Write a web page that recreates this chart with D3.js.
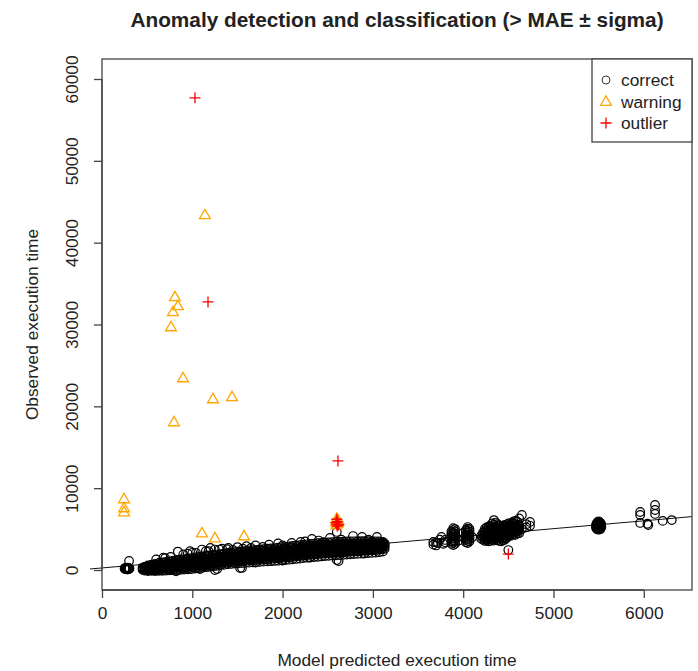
<!DOCTYPE html>
<html>
<head>
<meta charset="utf-8">
<script src="https://cdn.jsdelivr.net/npm/d3@7"></script>
<style>
  body { margin: 0; background: #fff; }
  text { font-family: "Liberation Sans", Arial, Helvetica, sans-serif; fill: #222; }
</style>
</head>
<body>
<div id="chart"></div>
<script>
// ---- data (predicted, observed) ----
const xTicks = [0, 1000, 2000, 3000, 4000, 5000, 6000];
const yTicks = [0, 10000, 20000, 30000, 40000, 50000, 60000];

// dense band of "correct" runs: [predicted, observed values...]
const bandRows = [
  [450, 20, 180, 300], [490, -30, 120, 280, 420], [530, 0, 200, 380, 520],
  [570, -40, 150, 350, 600], [610, 10, 230, 460, 680], [650, 40, 280, 500, 740],
  [690, 20, 300, 560, 820], [730, 70, 340, 620, 900], [770, 90, 380, 680, 1000],
  [810, 120, 420, 720, 1080], [850, 150, 460, 780, 1120], [890, 180, 500, 830, 1180],
  [930, 230, 540, 880, 1240], [970, 260, 590, 920, 1300], [1010, 310, 640, 980, 1350],
  [1050, 360, 700, 1030, 1400], [1090, 420, 750, 1080, 1460], [1130, 480, 810, 1140, 1520],
  [1170, 540, 870, 1200, 1580], [1210, 600, 930, 1260, 1640], [1250, 660, 990, 1320, 1700],
  [1290, 730, 1050, 1380, 1760], [1330, 800, 1110, 1440, 1830], [1370, 870, 1180, 1500, 1900],
  [1410, 930, 1240, 1560, 1960], [1450, 980, 1300, 1620, 2010], [1490, 1020, 1340, 1660, 2050],
  [1530, 1060, 1380, 1700, 2100], [1570, 1100, 1420, 1740, 2140], [1610, 1140, 1460, 1780, 2180],
  [1650, 1180, 1500, 1820, 2220], [1690, 1210, 1540, 1860, 2260], [1730, 1240, 1570, 1900, 2300],
  [1770, 1270, 1600, 1940, 2340], [1810, 1300, 1640, 1980, 2380], [1850, 1340, 1680, 2020, 2420],
  [1890, 1380, 1720, 2060, 2460], [1930, 1420, 1760, 2100, 2500], [1970, 1460, 1800, 2140, 2540],
  [2010, 1500, 1840, 2180, 2590], [2050, 1540, 1880, 2230, 2640], [2090, 1590, 1930, 2280, 2690],
  [2130, 1640, 1980, 2330, 2740], [2170, 1690, 2030, 2380, 2790], [2210, 1740, 2080, 2430, 2840],
  [2250, 1790, 2130, 2480, 2890], [2290, 1840, 2180, 2530, 2940], [2330, 1880, 2220, 2580, 2980],
  [2370, 1920, 2260, 2620, 3020], [2410, 1960, 2300, 2660, 3060], [2450, 2000, 2340, 2700, 3090],
  [2490, 2040, 2380, 2740, 3120], [2530, 2070, 2410, 2770, 3140], [2570, 2100, 2440, 2800, 3160],
  [2610, 2130, 2470, 2830, 3180], [2650, 2160, 2500, 2860, 3200], [2690, 2190, 2530, 2890, 3220],
  [2730, 2220, 2560, 2910, 3240], [2770, 2250, 2590, 2930, 3250], [2810, 2280, 2620, 2950, 3260],
  [2850, 2310, 2650, 2970, 3270], [2890, 2340, 2680, 2990, 3280], [2930, 2370, 2710, 3010, 3290],
  [2970, 2400, 2740, 3030, 3300], [3010, 2430, 2770, 3050, 3300], [3050, 2470, 2800, 3070, 3290],
  [3090, 2520, 2830, 3090, 3270], [3130, 2580, 2860, 3100, 3240]
];

// second, interleaved set of band runs (between the columns above, a bit wider)
const bandRows2 = [
  [470, -80, 100, 240, 380], [510, -120, 60, 220, 400, 560], [550, -100, 90, 270, 460, 640],
  [590, -120, 80, 300, 520, 760], [630, -100, 120, 360, 600, 860], [670, -90, 150, 400, 660, 920],
  [710, -60, 180, 450, 720, 990], [750, -40, 220, 500, 780, 1060], [790, -20, 250, 540, 840, 1140],
  [830, 0, 290, 590, 900, 1210], [870, 20, 320, 640, 960, 1280], [910, 50, 360, 680, 1010, 1340],
  [950, 80, 400, 730, 1070, 1400], [990, 120, 450, 790, 1130, 1460], [1030, 170, 500, 840, 1190, 1530],
  [1070, 220, 560, 900, 1240, 1590], [1110, 280, 620, 960, 1300, 1650], [1150, 340, 680, 1020, 1360, 1710],
  [1190, 400, 740, 1080, 1420, 1770], [1230, 460, 800, 1140, 1480, 1830], [1270, 520, 860, 1200, 1540, 1890],
  [1310, 580, 920, 1260, 1600, 1950], [1350, 640, 980, 1320, 1660, 2010], [1390, 700, 1040, 1380, 1720, 2080],
  [1430, 740, 1090, 1430, 1780, 2140], [1470, 780, 1130, 1480, 1830, 2190], [1510, 810, 1170, 1520, 1870, 2240],
  [1550, 840, 1200, 1560, 1910, 2280], [1590, 870, 1240, 1600, 1950, 2330], [1630, 900, 1270, 1640, 2000, 2380],
  [1670, 930, 1300, 1680, 2040, 2420], [1710, 960, 1340, 1720, 2080, 2460], [1750, 990, 1370, 1760, 2120, 2510],
  [1790, 1020, 1410, 1800, 2170, 2550], [1830, 1050, 1440, 1840, 2210, 2600], [1870, 1080, 1480, 1880, 2250, 2640],
  [1910, 1110, 1510, 1920, 2290, 2680], [1950, 1140, 1550, 1960, 2340, 2730], [1990, 1180, 1590, 2000, 2380, 2780],
  [2030, 1220, 1630, 2050, 2430, 2830], [2070, 1260, 1670, 2100, 2480, 2880], [2110, 1300, 1720, 2150, 2530, 2940],
  [2150, 1350, 1770, 2200, 2580, 2990], [2190, 1400, 1820, 2250, 2630, 3040], [2230, 1450, 1870, 2300, 2680, 3090],
  [2270, 1500, 1920, 2350, 2730, 3140], [2310, 1540, 1960, 2400, 2780, 3190], [2350, 1580, 2000, 2440, 2820, 3230],
  [2390, 1620, 2040, 2480, 2860, 3270], [2430, 1660, 2080, 2520, 2900, 3310], [2470, 1700, 2120, 2560, 2940, 3350],
  [2510, 1730, 2150, 2590, 2970, 3380], [2550, 1760, 2180, 2620, 3000, 3400], [2590, 1790, 2210, 2650, 3030, 3420],
  [2630, 1820, 2240, 2680, 3060, 3440], [2670, 1850, 2270, 2710, 3090, 3460], [2710, 1880, 2300, 2740, 3110, 3480],
  [2750, 1910, 2330, 2760, 3130, 3500], [2790, 1940, 2360, 2780, 3150, 3510], [2830, 1970, 2390, 2800, 3160, 3520],
  [2870, 2000, 2420, 2820, 3170, 3530], [2910, 2030, 2450, 2840, 3180, 3540], [2950, 2060, 2480, 2860, 3190, 3540],
  [2990, 2090, 2510, 2880, 3200, 3530], [3030, 2130, 2540, 2900, 3210, 3510], [3070, 2180, 2580, 2920, 3220, 3480],
  [3110, 2250, 2620, 2940, 3220, 3440]
];

// clusters further right, same layout
const clusterRows = [
  [3670, 3100, 3420], [3700, 3000, 3350], [3720, 3300], [3740, 3700], [3760, 4030],
  [3780, 3200], [3800, 3400, 3670],
  [3870, 3200, 3500, 3800, 4100, 4400, 4700],
  [3890, 3050, 3350, 3650, 3950, 4250, 4550, 4850, 5100],
  [3910, 3200, 3500, 3800, 4100, 4400, 4700, 5000],
  [3950, 3600], [4000, 4520], [4010, 3900],
  [4030, 3400, 3700, 4000, 4300, 4600, 4900],
  [4050, 3300, 3550, 3800, 4050, 4300, 4550, 4800, 5050, 5250],
  [4070, 3500, 3800, 4100, 4400, 4700, 5000], [4100, 4000],
  [4200, 3800, 4200], [4220, 3700, 4000, 4300, 4600],
  [4240, 3550, 3850, 4150, 4450, 4750, 5050],
  [4260, 3600, 3900, 4200, 4500, 4800, 5200],
  [4280, 3500, 3750, 4050, 4350, 4650, 4950, 5300],
  [4300, 3550, 3850, 4150, 4450, 4750, 5050, 5400],
  [4320, 3700, 4000, 4300, 4600, 4900, 5250, 5700],
  [4340, 3600, 3900, 4200, 4500, 4800, 5100, 5500, 6100],
  [4360, 3750, 4050, 4350, 4650, 4950, 5300, 5800],
  [4380, 3650, 3950, 4250, 4550, 4850, 5150, 5600],
  [4400, 3550, 3850, 4200, 4500, 4800, 5100, 5450],
  [4420, 3500, 3800, 4100, 4400, 4700, 5000, 5300],
  [4440, 3600, 3900, 4250, 4550, 4850, 5150, 5400],
  [4460, 3700, 4000, 4300, 4600, 4900, 5200, 5500],
  [4480, 3900, 4250, 4550, 4850, 5150, 5450],
  [4500, 2440, 4100, 4400, 4700, 5000, 5300, 5700],
  [4520, 4300, 4650, 4950, 5250, 5550],
  [4540, 4200, 4500, 4800, 5100, 5400, 5800],
  [4560, 4400, 4700, 5000, 5300, 5650, 5950],
  [4580, 4300, 4600, 4900, 5200, 5600, 6000],
  [4600, 4500, 4850, 5200, 5500, 5900],
  [4620, 4500, 4800, 5100, 5500, 6300], [4650, 5000, 6720],
  [4700, 5200, 5600], [4740, 5400, 5870],
  [5470, 5200, 5500], [5480, 5000, 5250, 5500, 5750],
  [5490, 4950, 5150, 5400, 5650, 5850], [5500, 5000, 5250, 5500, 5750, 5950],
  [5510, 4950, 5150, 5400, 5650, 5850], [5520, 5000, 5250, 5500, 5750], [5530, 5250, 5550],
  [5960, 5750, 6720, 7090], [6040, 5650], [6050, 5500],
  [6125, 6850, 7330, 7950], [6210, 6000], [6310, 6100]
];

// single scattered "correct" runs
const correctPred = [250, 265, 280, 295, 265, 295, 280, 280, 255, 255, 305, 270, 290, 300,
  700, 760, 840, 900, 975, 1040, 1107, 1180, 1250, 1330, 1385, 1450, 1560, 1650, 1780, 2000,
  2200, 2325, 2450, 2525, 2600, 2780, 2880, 3045, 3110,
  600, 680, 950, 1000, 1150, 1200, 1300, 1400, 1500, 1600, 1700, 1850, 1950, 2100, 2250, 2400,
  2650, 2950,
  820, 1085, 1275, 1250, 1530, 1550, 1700, 2000, 2300, 2600, 2620, 2900];
const correctObs = [180, 100, 180, 260, 260, 100, 60, 300, 240, 120, 180, 180, 180, 1100,
  1450, 1600, 2250, 1900, 2300, 2100, 2500, 2300, 2500, 2600, 2550, 2450, 2600, 2700, 2810, 3000,
  3420, 3790, 3400, 3910, 4650, 4150, 4030, 4030, 3300,
  1300, 1500, 2000, 2100, 2300, 2700, 2500, 2700, 2800, 2900, 3000, 3100, 3250, 3300, 3500, 3600,
  3700, 3700,
  -150, 120, 120, 0, 240, 250, 900, 1150, 1500, 1220, 1100, 2000];

// warnings (orange triangles)
const warnPred = [244, 244, 244, 764, 786, 808, 840, 897, 797, 1229, 1440, 1140, 1107, 1251, 1573,
  2590, 2600, 2610, 2620, 2595, 2605];
const warnObs = [8680, 7580, 7090, 29700, 31540, 33370, 32270, 23470, 18090, 20900, 21150, 43400,
  4520, 3910, 4160, 5900, 6300, 5700, 6000, 5500, 6150];

// outliers (red crosses)
const outPred = [1030, 1174, 2613, 2600, 2610, 2600, 2590, 2620, 2605, 4500];
const outObs = [57700, 32760, 13330, 5600, 5900, 6200, 5800, 5500, 5350, 1950];

// fitted line: observed = a + b * predicted
const fitA = 250, fitB = 0.96;

// ---- layout ----
const width = 698, height = 671;
const box = {left: 102, right: 692, top: 59, bottom: 590};
const fontSize = '17.3px';

const x = d3.scaleLinear().domain([0, 6534]).range([box.left, box.right]);
const y = d3.scaleLinear().domain([-2444, 62444]).range([box.bottom, box.top]);

const svg = d3.select('#chart').append('svg')
  .attr('width', width)
  .attr('height', height);

// build point sets
const correct = [];
bandRows.concat(bandRows2, clusterRows).forEach(r => {
  r.slice(1).forEach(v => correct.push([r[0], v]));
});
correctPred.forEach((p, i) => correct.push([p, correctObs[i]]));
const warnings = warnPred.map((p, i) => [p, warnObs[i]]);
const outliers = outPred.map((p, i) => [p, outObs[i]]);

// regression line
svg.append('line')
  .attr('x1', 90).attr('y1', y(fitA + fitB * x.invert(90)))
  .attr('x2', box.right).attr('y2', y(fitA + fitB * x.invert(box.right)))
  .attr('stroke', '#111').attr('stroke-width', 1);

// correct points
svg.append('g').selectAll('circle')
  .data(correct)
  .enter().append('circle')
  .attr('cx', d => x(d[0]))
  .attr('cy', d => y(d[1]))
  .attr('r', 4.3)
  .attr('fill', 'none')
  .attr('stroke', '#000')
  .attr('stroke-width', 1.2);

const tri = 'M0,-5.6L5.4,3.8L-5.4,3.8Z';
svg.append('g').selectAll('path')
  .data(warnings)
  .enter().append('path')
  .attr('d', tri)
  .attr('transform', d => `translate(${x(d[0])},${y(d[1])})`)
  .attr('fill', 'none')
  .attr('stroke', '#ffa500')
  .attr('stroke-width', 1.3);

const plus = 'M-5.5,0H5.5M0,-5.5V5.5';
svg.append('g').selectAll('path')
  .data(outliers)
  .enter().append('path')
  .attr('d', plus)
  .attr('transform', d => `translate(${x(d[0])},${y(d[1])})`)
  .attr('fill', 'none')
  .attr('stroke', '#ff0000')
  .attr('stroke-width', 1.3);

// box
svg.append('rect')
  .attr('x', box.left).attr('y', box.top)
  .attr('width', box.right - box.left).attr('height', box.bottom - box.top)
  .attr('fill', 'none').attr('stroke', '#444').attr('stroke-width', 1.3);

// axes (R style: line from first to last tick)
const xAxis = d3.axisBottom(x).tickValues(xTicks).tickSize(8).tickPadding(9).tickFormat(d3.format('d'));
const xg = svg.append('g')
  .attr('transform', `translate(0, ${box.bottom})`)
  .call(xAxis);
xg.select('.domain').attr('d', `M${x(0)},0H${x(6000)}`).attr('stroke', '#444').attr('stroke-width', 1.3);
xg.selectAll('.tick line').attr('stroke', '#444').attr('stroke-width', 1.3);
xg.selectAll('.tick text').style('font-size', fontSize).attr('fill', '#222');

const yAxis = d3.axisLeft(y).tickValues(yTicks).tickSize(8).tickPadding(0).tickFormat(d3.format('d'));
const yg = svg.append('g')
  .attr('transform', `translate(${box.left}, 0)`)
  .call(yAxis);
yg.select('.domain').attr('d', `M0,${y(0)}V${y(60000)}`).attr('stroke', '#444').attr('stroke-width', 1.3);
yg.selectAll('.tick line').attr('stroke', '#444').attr('stroke-width', 1.3);
yg.selectAll('.tick text')
  .style('font-size', fontSize)
  .attr('fill', '#222')
  .attr('x', 0).attr('dy', null)
  .attr('text-anchor', 'middle')
  .attr('transform', 'translate(-24,0) rotate(-90)')
  .attr('y', 0);

// titles
svg.append('text')
  .attr('x', (box.left + box.right) / 2).attr('y', 27)
  .attr('text-anchor', 'middle')
  .style('font-size', '20.8px').style('font-weight', 'bold')
  .text('Anomaly detection and classification (> MAE \u00b1 sigma)');

svg.append('text')
  .attr('x', (box.left + box.right) / 2).attr('y', 666)
  .attr('text-anchor', 'middle')
  .style('font-size', fontSize)
  .text('Model predicted execution time');

svg.append('text')
  .attr('transform', `translate(38, ${(box.top + box.bottom) / 2}) rotate(-90)`)
  .attr('text-anchor', 'middle')
  .style('font-size', fontSize)
  .text('Observed execution time');

// legend
const legendNames = ['correct', 'warning', 'outlier'];
const lg = svg.append('g');
lg.append('rect')
  .attr('x', 592).attr('y', box.top)
  .attr('width', box.right - 592).attr('height', 142 - box.top)
  .attr('fill', '#fff').attr('stroke', '#444').attr('stroke-width', 1.3);
legendNames.forEach((name, i) => {
  const cy = 80 + i * 21.5;
  if (i === 0) {
    lg.append('circle').attr('cx', 606).attr('cy', cy).attr('r', 4)
      .attr('fill', 'none').attr('stroke', '#333').attr('stroke-width', 1);
  } else if (i === 1) {
    lg.append('path').attr('d', tri).attr('transform', `translate(606,${cy})`)
      .attr('fill', 'none').attr('stroke', '#ffa500').attr('stroke-width', 1.3);
  } else {
    lg.append('path').attr('d', plus).attr('transform', `translate(606,${cy})`)
      .attr('fill', 'none').attr('stroke', '#ff0000').attr('stroke-width', 1.3);
  }
  lg.append('text').attr('x', 621).attr('y', cy + 6)
    .style('font-size', fontSize)
    .text(name);
});
</script>
</body>
</html>
